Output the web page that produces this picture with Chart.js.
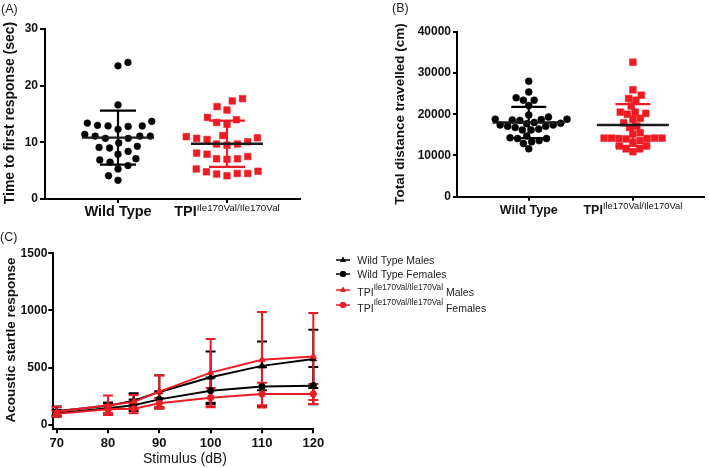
<!DOCTYPE html>
<html><head><meta charset="utf-8">
<script src="https://cdn.jsdelivr.net/npm/chart.js@4.4.1/dist/chart.umd.min.js"></script>
<style>
html,body{margin:0;padding:0;background:#fff}
body{width:709px;height:468px;overflow:hidden;position:relative}
canvas{position:absolute;display:block}
</style></head><body>
<canvas id="cA" width="320" height="226" style="left:0px;top:0px"></canvas>
<canvas id="cB" width="349" height="226" style="left:360px;top:0px"></canvas>
<canvas id="cC" width="709" height="238" style="left:0px;top:230px"></canvas>
<script>
// ---------------- DATA ----------------
const groupNames = ['Wild Type', 'TPI'];
const genotypeSup = 'Ile170Val/Ile170Val';

// (A) time to first response, sec
const latencyWT = [24.1, 23.5, 16.6, 13.4, 12.9, 12.8, 13.7, 12.3, 12.9, 13.0, 11.1, 10.7, 11.1, 11.4, 10.7, 11.1,
  9.1, 8.4, 7.9, 9.9, 9.0, 9.3, 6.9, 5.9, 5.3, 6.5, 7.1, 3.3, 4.1];
const latencyTPI = [17.3, 17.7, 15.7, 16.3, 14.4, 13.5, 13.2, 14.0, 11.2, 10.8, 10.5, 9.7, 9.5, 9.7, 10.1, 10.7, 11.0,
  8.1, 7.5, 7.1, 7.0, 7.1, 7.9, 5.3, 4.8, 4.4, 4.1, 4.5, 4.5, 4.9];
const ticksA = [0, 10, 20, 30];

// (B) total distance travelled, cm
const distanceWT = [28000, 25400, 24000, 23400, 23400, 22100, 19800, 19300, 18800, 18700, 18500, 18600, 18800, 18000,
  17700, 17400, 17100, 16800, 17100, 17400, 17800, 16200, 16200, 16400, 14100, 14700, 13600, 14300, 12900, 14100, 11600, 13300];
const distanceTPI = [32600, 25900, 24600, 23800, 23400, 22000, 20500, 20200, 19000, 20000, 20500, 18800, 17900, 17100,
  16800, 15500, 15200, 14200, 14100, 14200, 14000, 14200, 14100, 14200, 13600, 12300, 11600, 10900, 11600, 12300, 13200];
const ticksB = [0, 10000, 20000, 30000, 40000];

// (C) acoustic startle response
const stimulusDb = [70, 80, 85, 90, 100, 110, 120];
const wtMalesMean = [120, 165, 210, 287, 416, 515, 576];
const wtMalesSD = [40, 30, 65, 145, 224, 213, 255];
const wtFemalesMean = [100, 144, 170, 222, 298, 334, 342];
const wtFemalesSD = [30, 45, 50, 70, 116, 170, 163];
const tpiMalesMean = [115, 170, 200, 290, 456, 568, 597];
const tpiMalesSD = [40, 85, 60, 140, 295, 418, 380];
const tpiFemalesMean = [95, 135, 140, 188, 237, 269, 269];
const tpiFemalesSD = [25, 35, 40, 45, 85, 98, 88];
const ticksCx = [70, 80, 90, 100, 110, 120];
const ticksCy = [0, 500, 1000, 1500];

// ---------------- STYLE ----------------
const F = '"Liberation Sans", Arial, Helvetica, sans-serif';
const BLACK = '#000000';
const RED = '#ED1C24';
const TXT = '#111111';
const plainNum = v => String(v);

function stats(a) {
  const m = a.reduce((s, v) => s + v, 0) / a.length;
  const sd = Math.sqrt(a.reduce((s, v) => s + (v - m) * (v - m), 0) / (a.length - 1));
  return { m, sd };
}

function drawRich(ctx, parts, x, baseline, align) {
  let total = 0;
  parts.forEach(p => { ctx.font = p.font; p.w = ctx.measureText(p.text).width; total += p.w; });
  let cx = align === 'center' ? x - total / 2 : x;
  ctx.textAlign = 'left';
  ctx.textBaseline = 'alphabetic';
  parts.forEach(p => { ctx.font = p.font; ctx.fillText(p.text, cx, baseline + (p.dy || 0)); cx += p.w; });
}

function drawRotated(ctx, text, font, x, y) {
  ctx.save();
  ctx.translate(x, y);
  ctx.rotate(-Math.PI / 2);
  ctx.font = font;
  ctx.fillStyle = TXT;
  ctx.textAlign = 'center';
  ctx.textBaseline = 'middle';
  ctx.fillText(text, 0, 0);
  ctx.restore();
}

function axisStyle(tickLen, pad, size) {
  return {
    grid: { display: true, drawOnChartArea: false, drawTicks: true, tickLength: tickLen, color: BLACK, lineWidth: 2 },
    border: { display: true, color: BLACK, width: 2 },
    ticks: { color: TXT, padding: pad, callback: plainNum, font: { family: F, size: size, weight: 'bold' } }
  };
}

function swarm(chart, minDists) {
  const xs = chart.scales.x, ys = chart.scales.y;
  chart.data.datasets.forEach((ds, i) => {
    const minDist = minDists[i];
    const cx = xs.getPixelForValue(i + 1);
    const pts = ds.data.map((p, k) => ({ k, y: ys.getPixelForValue(p.y), x: 0 }));
    const order = pts.slice().sort((a, b) => b.y - a.y);
    const placed = [];
    const d2 = minDist * minDist;
    order.forEach((p, n) => {
      const cands = [0];
      placed.forEach(q => {
        const dy = Math.abs(q.y - p.y);
        if (dy < minDist) { const dx = Math.sqrt(d2 - dy * dy); cands.push(q.x + dx, q.x - dx); }
      });
      const sgn = n % 2 ? 1 : -1;
      cands.sort((a, b) => (Math.abs(a) - Math.abs(b)) || (sgn * (a - b)));
      let chosen = null;
      for (const c of cands) {
        if (placed.every(q => (q.x - c) * (q.x - c) + (q.y - p.y) * (q.y - p.y) >= d2 - 0.01)) { chosen = c; break; }
      }
      p.x = chosen === null ? 0 : chosen;
      placed.push(p);
    });
    pts.forEach(p => { ds.data[p.k].x = xs.getValueForPixel(cx + p.x); });
  });
  chart.update('none');
}

function columnPanel(id, P) {
  const overlay = {
    id: 'overlay' + id,
    afterDatasetsDraw(chart) {
      const ctx = chart.ctx, xs = chart.scales.x, ys = chart.scales.y;
      P.groups.forEach((g, i) => {
        const s = stats(g.values);
        const cx = xs.getPixelForValue(i + 1);
        const yTop = ys.getPixelForValue(s.m + s.sd), yBot = ys.getPixelForValue(s.m - s.sd), yM = ys.getPixelForValue(s.m);
        ctx.save();
        ctx.strokeStyle = g.color; ctx.lineWidth = 2.2; ctx.lineCap = 'butt';
        ctx.beginPath();
        ctx.moveTo(cx, yTop); ctx.lineTo(cx, yBot);
        ctx.moveTo(cx - P.capHalf, yTop); ctx.lineTo(cx + P.capHalf, yTop);
        ctx.moveTo(cx - P.capHalf, yBot); ctx.lineTo(cx + P.capHalf, yBot);
        ctx.stroke();
        ctx.strokeStyle = '#1a1a1a'; ctx.lineWidth = 2.4;
        ctx.beginPath(); ctx.moveTo(cx - P.meanHalf, yM); ctx.lineTo(cx + P.meanHalf, yM); ctx.stroke();
        ctx.restore();
      });
    },
    afterDraw(chart) {
      const ctx = chart.ctx, xs = chart.scales.x, area = chart.chartArea;
      ctx.save();
      ctx.fillStyle = TXT;
      const base = area.bottom + P.labelDrop;
      drawRich(ctx, [{ text: groupNames[0], font: 'bold ' + P.catSize + 'px ' + F }], xs.getPixelForValue(1), base, 'center');
      drawRich(ctx, [
        { text: groupNames[1], font: 'bold ' + P.catSize + 'px ' + F },
        { text: genotypeSup, font: P.supSize + 'px ' + F, dy: -P.supRise }
      ], xs.getPixelForValue(2), base, 'center');
      drawRotated(ctx, P.yTitle, 'bold ' + P.yTitleSize + 'px ' + F, P.yTitleX, P.yTitleY);
      ctx.font = '12.5px ' + F; ctx.fillStyle = '#222'; ctx.textAlign = 'left'; ctx.textBaseline = 'alphabetic';
      ctx.fillText(P.letter, P.letterX, P.letterY);
      ctx.restore();
    }
  };
  const ax = axisStyle(P.tickLen, P.tickPad, 12);
  const chart = new Chart(document.getElementById(id), {
    type: 'scatter',
    data: {
      datasets: P.groups.map((g, i) => ({
        data: g.values.map(v => ({ x: i + 1, y: v })),
        pointStyle: g.style, pointRadius: g.r, pointHoverRadius: g.r,
        pointBackgroundColor: g.color, pointBorderColor: g.color, pointBorderWidth: 0.5,
        showLine: false, clip: false
      }))
    },
    options: {
      responsive: false, animation: false, devicePixelRatio: 1, events: [],
      layout: { padding: { left: 0, top: P.padTop, right: P.padRight, bottom: 0 } },
      plugins: { legend: { display: false }, tooltip: { enabled: false } },
      scales: {
        x: {
          type: 'linear', min: P.xMin, max: P.xMax,
          afterBuildTicks: s => { s.ticks = [{ value: 1 }, { value: 2 }]; },
          afterFit: s => { s.height = P.xH; },
          grid: Object.assign({}, ax.grid, { tickLength: 4 }), border: ax.border,
          ticks: { display: false }
        },
        y: {
          min: P.yTicks[0], max: P.yTicks[P.yTicks.length - 1],
          afterBuildTicks: s => { s.ticks = P.yTicks.map(v => ({ value: v })); },
          afterFit: s => { s.width = P.yW; },
          grid: ax.grid, border: ax.border, ticks: ax.ticks
        }
      }
    },
    plugins: [overlay]
  });
  swarm(chart, P.minDist);
  return chart;
}

columnPanel('cA', {
  groups: [
    { values: latencyWT, color: BLACK, style: 'circle', r: 3.4 },
    { values: latencyTPI, color: RED, style: 'rect', r: 4.7 }
  ],
  yTicks: ticksA, yTitle: 'Time to first response (sec)', yTitleSize: 14, yTitleX: 10, yTitleY: 113,
  yW: 45, xH: 27, padTop: 29, padRight: 20, xMin: 0.33, xMax: 2.67,
  tickLen: 5, tickPad: 2, catSize: 14.5, supSize: 9.8, supRise: 5, labelDrop: 16.5,
  meanHalf: 36, capHalf: 18, minDist: [10.5, 10.5],
  letter: '(A)', letterX: 1, letterY: 13
});

columnPanel('cB', {
  groups: [
    { values: distanceWT, color: BLACK, style: 'circle', r: 3.5 },
    { values: distanceTPI, color: RED, style: 'rect', r: 4.8 }
  ],
  yTicks: ticksB, yTitle: 'Total distance travelled (cm)', yTitleSize: 13.5, yTitleX: 40.7, yTitleY: 114,
  yW: 97, xH: 29.3, padTop: 31.7, padRight: 1, xMin: 0.311, xMax: 2.68,
  tickLen: 4, tickPad: 2, catSize: 12.5, supSize: 9.4, supRise: 5, labelDrop: 17.3,
  meanHalf: 36, capHalf: 17.5, minDist: [7.6, 7.4],
  letter: '(B)', letterX: 32, letterY: 12
});

// ---------------- PANEL C ----------------
const seriesC = [
  { label: 'Wild Type Males', mean: wtMalesMean, sd: wtMalesSD, color: BLACK, style: 'triangle', r: 4, order: 3 },
  { label: 'Wild Type Females', mean: wtFemalesMean, sd: wtFemalesSD, color: BLACK, style: 'circle', r: 3.3, order: 2 },
  { label: 'Males', mean: tpiMalesMean, sd: tpiMalesSD, color: RED, style: 'triangle', r: 4, order: 1, tpi: true },
  { label: 'Females', mean: tpiFemalesMean, sd: tpiFemalesSD, color: RED, style: 'circle', r: 3.3, order: 0, tpi: true }
];

const errorBarsC = {
  id: 'errorBarsC',
  beforeDatasetsDraw(chart) {
    const ctx = chart.ctx, xs = chart.scales.x, ys = chart.scales.y;
    const drawOrder = seriesC.slice().sort((a, b) => b.order - a.order);
    ctx.save();
    ctx.lineWidth = 2;
    drawOrder.forEach(s => {
      ctx.strokeStyle = s.color;
      ctx.beginPath();
      stimulusDb.forEach((x, k) => {
        const px = xs.getPixelForValue(x);
        const yt = ys.getPixelForValue(s.mean[k] + s.sd[k]);
        const yb = ys.getPixelForValue(s.mean[k] - s.sd[k]);
        ctx.moveTo(px, yt); ctx.lineTo(px, yb);
        ctx.moveTo(px - 5, yt); ctx.lineTo(px + 5, yt);
        ctx.moveTo(px - 5, yb); ctx.lineTo(px + 5, yb);
      });
      ctx.stroke();
    });
    ctx.restore();
  },
  afterDraw(chart) {
    const ctx = chart.ctx;
    ctx.save();
    ctx.fillStyle = TXT;
    drawRotated(ctx, 'Acoustic startle response', 'bold 13.5px ' + F, 11.7, 110);
    ctx.font = '14px ' + F; ctx.textAlign = 'center'; ctx.textBaseline = 'middle';
    ctx.fillText('Stimulus (dB)', 185, 229);
    ctx.font = '12.5px ' + F; ctx.fillStyle = '#222'; ctx.textAlign = 'left'; ctx.textBaseline = 'alphabetic';
    ctx.fillText('(C)', 0, 11);
    // legend
    const rows = [{ y: 30, tb: 3.5 }, { y: 44, tb: 3.5 }, { y: 60, tb: 5.7 }, { y: 75, tb: 6.5 }];
    seriesC.forEach((s, i) => {
      const y = rows[i].y;
      ctx.strokeStyle = s.color; ctx.fillStyle = s.color; ctx.lineWidth = 1.5;
      ctx.beginPath(); ctx.moveTo(336, y); ctx.lineTo(350, y); ctx.stroke();
      Chart.helpers.drawPoint(ctx, { pointStyle: s.style, radius: s.style === 'circle' ? 3 : 3.3, rotation: 0, borderWidth: 0 }, 343, y);
      ctx.fill();
      ctx.fillStyle = '#222';
      const parts = s.tpi ? [
        { text: 'TPI', font: '10.5px ' + F },
        { text: genotypeSup, font: '8.2px ' + F, dy: -6.2 },
        { text: ' ' + s.label, font: '10.5px ' + F }
      ] : [{ text: s.label, font: '10.5px ' + F }];
      drawRich(ctx, parts, 357.3, y + rows[i].tb, 'left');
    });
    ctx.restore();
  }
};

const axC = axisStyle(4, 1, 12);
new Chart(document.getElementById('cC'), {
  type: 'line',
  data: {
    datasets: seriesC.map(s => ({
      label: s.label,
      data: stimulusDb.map((x, k) => ({ x: x, y: s.mean[k] })),
      borderColor: s.color, backgroundColor: s.color, borderWidth: 2,
      pointStyle: s.style, pointRadius: s.r, pointHoverRadius: s.r,
      pointBackgroundColor: s.color, pointBorderColor: s.color, pointBorderWidth: 0.5,
      tension: 0, fill: false, clip: false, order: s.order
    }))
  },
  options: {
    responsive: false, animation: false, devicePixelRatio: 1, events: [],
    layout: { padding: { left: 0, top: 23.3, right: 395.7, bottom: 0 } },
    plugins: { legend: { display: false }, tooltip: { enabled: false } },
    scales: {
      x: {
        type: 'linear', min: 69.35, max: 120,
        afterBuildTicks: s => { s.ticks = ticksCx.map(v => ({ value: v })); },
        afterFit: s => { s.height = 38.7; },
        grid: axC.grid, border: axC.border,
        ticks: { color: TXT, padding: 2, maxRotation: 0, autoSkip: false, callback: plainNum, font: { family: F, size: 13, weight: 'bold' } }
      },
      y: {
        type: 'linear', min: -40, max: 1500,
        afterBuildTicks: s => { s.ticks = ticksCy.map(v => ({ value: v })); },
        afterFit: s => { s.width = 53.3; },
        grid: Object.assign({}, axC.grid, { tickLength: 5 }), border: axC.border, ticks: axC.ticks
      }
    }
  },
  plugins: [errorBarsC]
});
</script>
</body></html>
